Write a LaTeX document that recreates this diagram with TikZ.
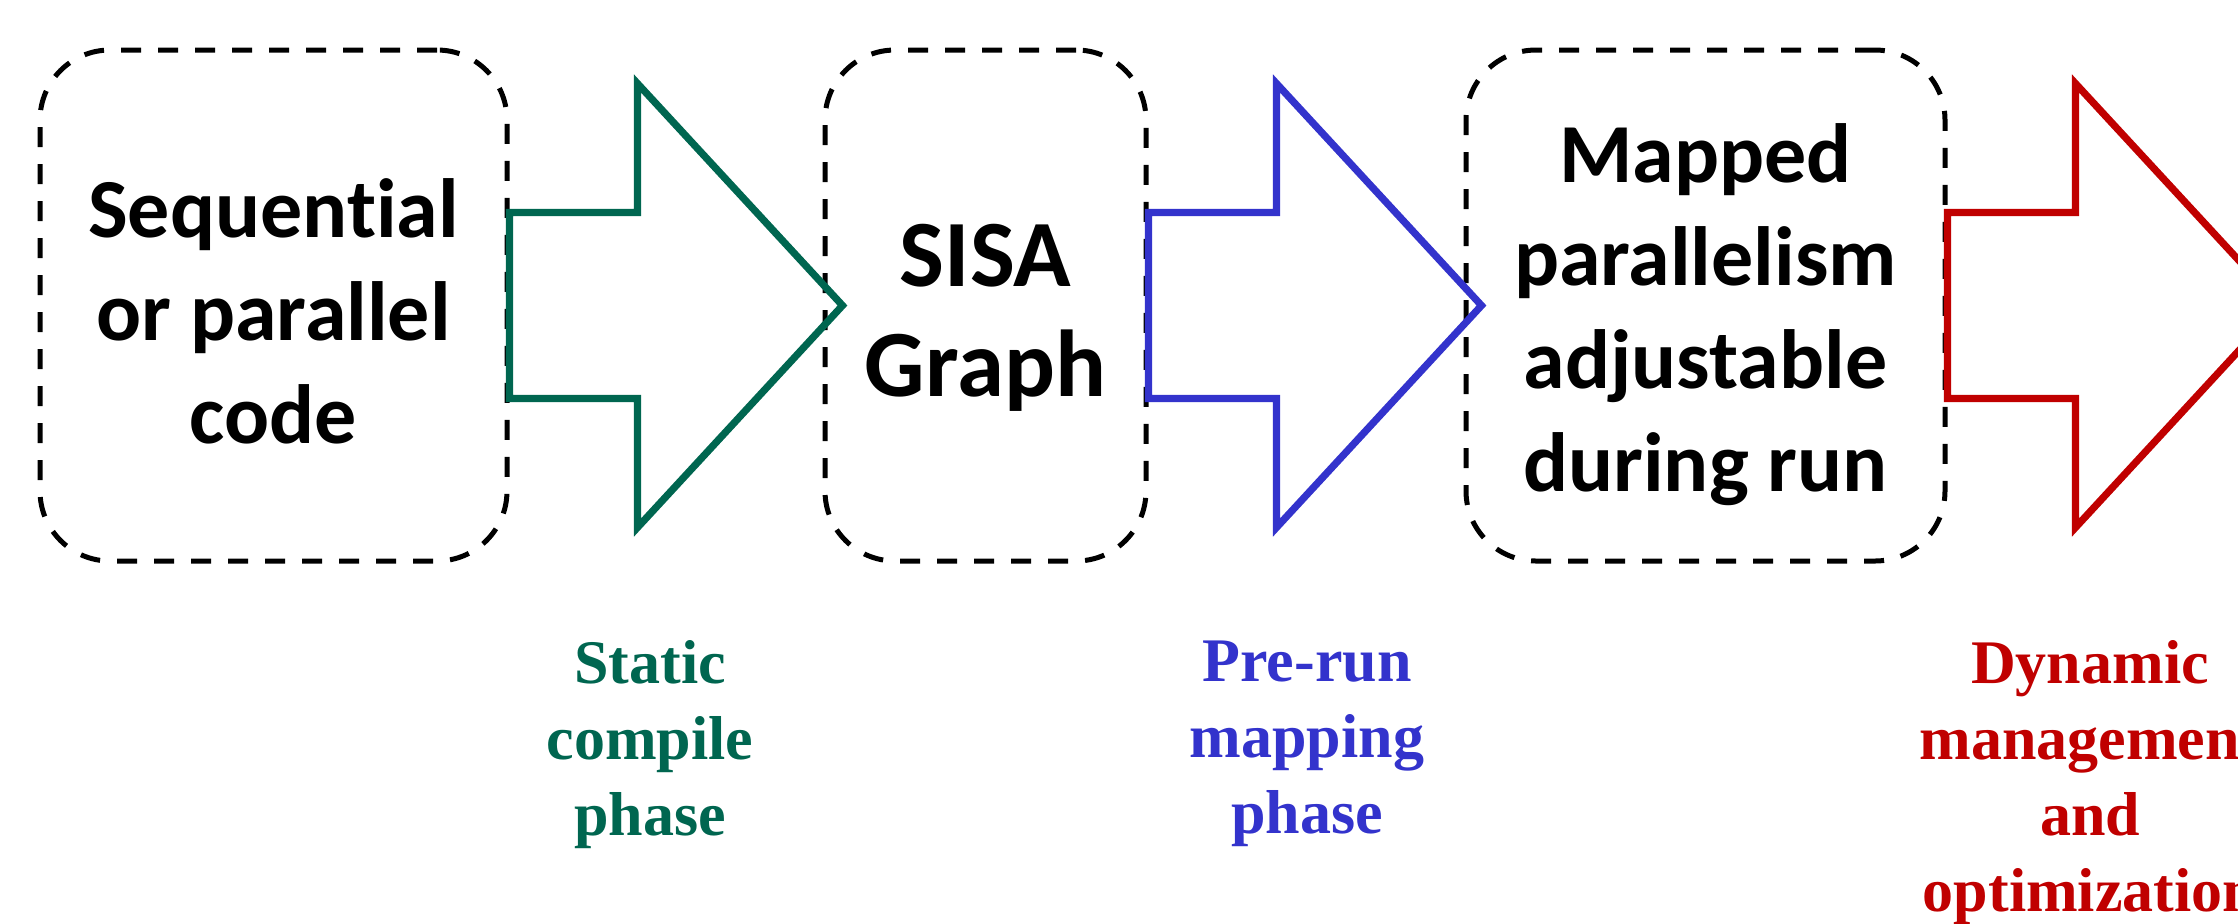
\documentclass[tikz,border=0pt]{standalone}
\usepackage{fontspec}
\setmainfont{Liberation Serif}
\newfontfamily\calibri[Ligatures=NoCommon]{Carlito}

\definecolor{phasegreen}{RGB}{0,102,80}
\definecolor{phaseblue}{RGB}{51,51,204}
\definecolor{phasered}{RGB}{192,0,0}

\tikzset{
    stage/.style={draw, dashed, dash pattern=on 5pt off 4.25pt, line width=1.25pt,
        rounded corners=17.5pt, minimum height=127.75pt, inner sep=0pt},
    stagetext/.style={align=center, inner sep=0pt,
        font=\calibri\bfseries\fontsize{21}{25.75}\selectfont},
    bigarrow/.style={line width=1.8pt, line join=miter},
    phase/.style={align=center, inner sep=0pt, anchor=north,
        font=\bfseries\fontsize{15.5}{19}\selectfont},
}

\begin{document}
\begin{tikzpicture}[x=0.25pt, y=-0.25pt]

    % Page
    \useasboundingbox (0,0) rectangle (2238,923);
    \clip (0,0) rectangle (2238,923);

    % Arrow sizes
    \def\ashaft{93}
    \def\astep{129}
    \def\atail{128}
    \def\atip{205}
    \def\ahead{222}

    % Stages
    \node[stage, minimum width=116.75pt] (seq) at (273.5,305.5) {};
    \node[stage, minimum width=80.25pt] (sisa) at (985.5,305.5) {};
    \node[stage, minimum width=119.75pt] (mapped) at (1705.5,305.5) {};

    \node[stagetext] (seqtext) at ([yshift=-1.4pt]seq.center) {Sequential\\or parallel\\code};
    \node[stagetext, font=\calibri\bfseries\fontsize{23.75}{27.5}\selectfont] (sisatext) at ([yshift=-3.2pt]sisa.center) {SISA\\Graph};
    \node[stagetext] (mappedtext) at ([yshift=-2.2pt]mapped.center) {Mapped\\parallelism\\adjustable\\during run};

    % Block arrows
    \draw[bigarrow, phasegreen] (seq.east) ++(0,-\ashaft) -- ++(\atail,0) -- ++(0,-\astep) -- ++(\atip,\ahead) -- ++(-\atip,\ahead) -- ++(0,-\astep) -- ++(-\atail,0) -- cycle;
    \draw[bigarrow, phaseblue] (sisa.east) ++(0,-\ashaft) -- ++(\atail,0) -- ++(0,-\astep) -- ++(\atip,\ahead) -- ++(-\atip,\ahead) -- ++(0,-\astep) -- ++(-\atail,0) -- cycle;
    \draw[bigarrow, phasered] (mapped.east) ++(0,-\ashaft) -- ++(\atail,0) -- ++(0,-\astep) -- ++(\atip,\ahead) -- ++(-\atip,\ahead) -- ++(0,-\astep) -- ++(-\atail,0) -- cycle;

    % Phases
    \node[phase, phasegreen] (static) at (650,640) {Static\\compile\\phase};
    \node[phase, phaseblue] (prerun) at (1307,640) {Pre-run\\mapping\\phase};
    \node[phase, phasered] (dynamic) at (2090,640) {Dynamic\\management\\and\\optimization};

\end{tikzpicture}
\end{document}
